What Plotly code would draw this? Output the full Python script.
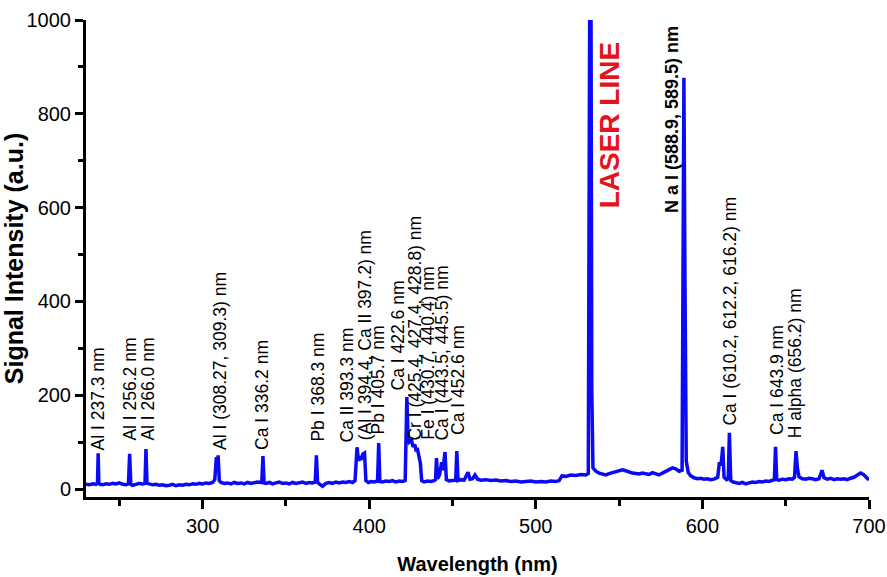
import plotly.graph_objects as go

# ---------------- data ----------------
wavelength = [
    230, 232, 234, 236, 236.9, 237.3, 237.7, 238.5, 240, 242, 244, 246, 248, 250, 252, 254,
    255.5, 256.2, 256.9, 258, 260, 262, 264, 265.4, 266.0, 266.6, 268, 270, 272, 274, 276, 278,
    280, 282, 284, 286, 288, 290, 292, 294, 296, 298, 300, 302, 304, 306, 307.3, 308.27, 308.8,
    309.3, 310, 311, 313, 315, 317, 319, 321, 323, 325, 327, 329, 331, 333, 335.5, 336.2, 336.9,
    338, 340, 342, 344, 346, 348, 350, 352, 354, 356, 358, 360, 362, 364, 366, 367.6, 368.3, 369,
    370, 372, 374, 376, 378, 380, 382, 384, 386, 388, 390, 391.5, 392.7, 393.6, 394.4, 395, 396.2,
    397.2, 398, 399.5, 401, 403, 405, 405.7, 406.4, 408, 410, 412, 414, 416, 418, 420, 421.6,
    422.6, 423.3, 424, 425.4, 426.3, 427.4, 428.2, 428.8, 429.6, 430.7, 431.5, 433, 435, 437,
    439, 439.8, 440.4, 441, 442.2, 443.5, 444.3, 445.5, 446.3, 448, 450, 451.9, 452.6, 453.3,
    455, 457, 459.3, 460.5, 462, 463.5, 465, 467, 470, 473, 476, 479, 482, 485, 488, 491, 494,
    497, 500, 503, 506, 509, 512, 514, 515.7, 518, 521, 524, 527, 530, 531.5, 532.4, 533.1,
    533.6, 534.3, 536, 538, 540, 542, 544, 546, 548, 550, 552, 554, 556, 558, 560, 562, 564,
    566, 568, 570, 572, 574, 576, 578, 580, 582, 584, 586, 587.8, 588.9, 589.5, 590.3, 591.5,
    593, 595, 597, 599, 601, 603, 605, 607, 609.2, 610.2, 611.2, 612.2, 613, 614.5, 615.5,
    616.2, 617, 618.5, 620, 622, 624, 626, 628, 630, 632, 634, 636, 638, 640, 642, 643.2, 643.9,
    644.6, 646, 648, 650, 652, 654, 655.3, 656.2, 657, 658, 660, 662, 664, 666, 668, 670, 671.8,
    673, 675, 677, 679, 681, 683, 685, 687, 689, 691, 693, 695, 697, 699, 700,
]
intensity = [
    10, 9, 11, 10, 12, 76, 12, 10, 9, 11, 10, 12, 11, 13, 10, 9,
    11, 75, 10, 8, 10, 12, 11, 12, 85, 12, 11, 9, 10, 8, 9, 7,
    8, 10, 7, 9, 8, 10, 9, 11, 10, 12, 11, 13, 12, 14, 20, 68, 45,
    72, 18, 14, 12, 13, 11, 14, 12, 13, 11, 14, 12, 13, 15, 14, 70, 13,
    12, 14, 11, 13, 15, 12, 13, 11, 14, 12, 13, 15, 12, 14, 13, 15, 72, 14,
    11, 6, 12, 14, 12, 15, 13, 15, 14, 16, 14, 18, 89, 60, 70, 62, 75,
    77, 18, 14, 16, 15, 17, 98, 16, 15, 17, 16, 18, 15, 17, 16, 18,
    196, 110, 100, 104, 90, 95, 80, 88, 70, 55, 18, 15, 17, 16,
    18, 20, 66, 22, 30, 57, 40, 79, 20, 17, 18, 19, 81, 18,
    20, 19, 36, 21, 22, 30, 21, 19, 20, 18, 19, 17, 18, 16, 17, 15, 16,
    17, 15, 16, 15, 17, 16, 18, 28, 27, 30, 29, 31, 30, 33, 1100, 1100,
    213, 45, 38, 34, 32, 30, 33, 35, 38, 40, 41, 39, 36, 34, 33, 32, 34,
    33, 31, 35, 32, 30, 34, 38, 42, 45, 43, 38, 40, 877, 466, 60, 35,
    28, 24, 22, 23, 21, 22, 20, 21, 25, 57, 50, 90, 25, 20, 22,
    120, 18, 15, 13, 12, 14, 11, 13, 15, 14, 16, 15, 17, 16, 18, 20, 90,
    20, 19, 21, 20, 22, 21, 25, 81, 45, 26, 22, 21, 23, 22, 20, 22, 40,
    24, 21, 23, 20, 22, 21, 22, 20, 23, 25, 30, 34, 30, 22, 19,
]

line_labels = [
    "Al I 237.3 nm", "Al I 256.2 nm", "Al I 266.0 nm", "Al I (308.27, 309.3) nm",
    "Ca I 336.2 nm", "Pb I 368.3 nm", "Ca II 393.3 nm", "(Al I 394.4, Ca II 397.2) nm",
    "Pb I 405.7 nm", "Ca I 422.6 nm", "Cr I (425.4, 427.4, 428.8) nm",
    "Fe I (430.7, 440.4) nm", "Ca I (443.5, 445.5) nm", "Ca I 452.6 nm",
    "N a I (588.9, 589.5) nm", "Ca I (610.2, 612.2, 616.2) nm", "Ca I 643.9 nm",
    "H alpha (656.2) nm",
]
label_x = [237.2, 256.4, 267.2, 310.4, 335.6, 368.7, 386.7, 397.5, 405.3, 417.3,
           427.5, 435.3, 443.7, 453.3, 581.7, 616.0, 644.8, 655.6]
label_y = [79, 100, 100, 79, 79, 96, 94, 100, 111, 206, 98, 100, 98, 111, 585, 130, 111, 104]

x_ticks = [300, 400, 500, 600, 700]
y_ticks = [0, 200, 400, 600, 800, 1000]

# ---------------- figure ----------------
FONT = "Arial, Liberation Sans, sans-serif"

fig = go.Figure()
fig.add_trace(go.Scatter(
    x=wavelength, y=intensity, mode="lines",
    line=dict(color="#0a0af5", width=3.5),
    hoverinfo="skip", showlegend=False,
))

for txt, lx, ly in zip(line_labels, label_x, label_y):
    bold = txt.startswith("N a I")
    fig.add_annotation(
        x=lx, y=ly, xref="x", yref="y", text=txt, textangle=-90,
        showarrow=False, xanchor="center", yanchor="bottom",
        font=dict(family=FONT, size=18 if bold else 17.5, color="black",
                  weight="bold" if bold else "normal"),
    )

fig.add_annotation(
    x=543.9, y=594, xref="x", yref="y", text="LASER LINE", textangle=-90,
    showarrow=False, xanchor="center", yanchor="bottom",
    font=dict(family=FONT, size=28, color="#e3141c", weight="bold"),
)

fig.update_layout(
    width=887, height=577,
    margin=dict(l=86, r=18, t=20, b=80),
    paper_bgcolor="white", plot_bgcolor="white",
    font=dict(family=FONT, color="black"),
)
fig.update_xaxes(
    range=[230, 700], showgrid=False, zeroline=False, automargin=False,
    showline=True, linecolor="black", linewidth=3,
    ticks="outside", ticklen=9, tickwidth=3, tickcolor="black",
    tickvals=x_ticks, ticktext=[str(v) for v in x_ticks],
    tickfont=dict(family=FONT, size=20, color="black"),
    minor=dict(dtick=50, tick0=0, ticks="outside", ticklen=6, tickwidth=3, tickcolor="black"),
    title=dict(text="Wavelength (nm)", standoff=21,
               font=dict(family=FONT, size=20, color="black", weight="bold")),
)
fig.update_yaxes(
    range=[-17, 1000], showgrid=False, zeroline=False, automargin=False,
    showline=True, linecolor="black", linewidth=3,
    ticks="outside", ticklen=8, tickwidth=3, tickcolor="black",
    tickvals=y_ticks, ticktext=[str(v) for v in y_ticks],
    tickfont=dict(family=FONT, size=20, color="black"),
    minor=dict(dtick=100, tick0=0, ticks="outside", ticklen=5, tickwidth=3, tickcolor="black"),
    title=dict(text="Signal Intensity (a.u.)", standoff=5,
               font=dict(family=FONT, size=25, color="black", weight="bold")),
)

fig.write_html("out.html")
